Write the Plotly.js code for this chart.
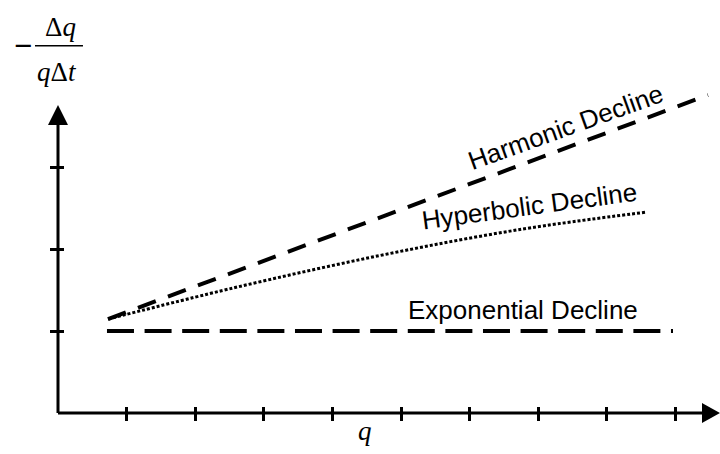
<!DOCTYPE html>
<html>
<head>
<meta charset="utf-8">
<script src="https://cdn.plot.ly/plotly-3.0.1.min.js"></script>
<style>html,body{margin:0;padding:0;background:#fff;}#chart{width:720px;height:454px;}</style>
</head>
<body>
<div id="chart"></div>
<script>
// Rate q (x) and decline -Δq/(qΔt) (y)
const qExp = [0.714, 8.965];
const dExp = [1.0, 1.0];
const qHar = [0.729, 9.475];
const dHar = [1.146, 3.878];
const qHyp = [0.729, 2.551, 4.694, 6.735, 8.586];
const dHyp = [1.146, 1.524, 1.921, 2.238, 2.451];
const xTicks = [1, 2, 3, 4, 5, 6, 7, 8, 9];
const yTicks = [1, 2, 3];
const curveNames = ['Exponential Decline', 'Hyperbolic Decline', 'Harmonic Decline'];
const labelQ = [6.778, 6.880, 7.405];
const labelD = [1.256, 2.524, 3.488];
const labelAngle = [0, -7.7, -19.8];

const xRange = [0, 652 / 68.6];
const yRange = [0, 403 / 82];

const traces = [
  {x: qExp, y: dExp, mode: 'lines', line: {color: '#000', width: 4, dash: '27px,10.6px'}, hoverinfo: 'skip', name: curveNames[0]},
  {x: qHar, y: dHar, mode: 'lines', line: {color: '#000', width: 4, dash: '19px,13px'}, hoverinfo: 'skip', name: curveNames[2]},
  {x: qHyp, y: dHyp, mode: 'lines', line: {color: '#000', width: 3, dash: '3px,2px', shape: 'spline', smoothing: 1}, hoverinfo: 'skip', name: curveNames[1]},
  {x: [], y: [], xaxis: 'x2', yaxis: 'y2', mode: 'lines', hoverinfo: 'skip', showlegend: false}
];

const axBase = {showgrid: false, zeroline: false, showline: false, showticklabels: false,
  tickmode: 'array', tickwidth: 3, tickcolor: '#000', fixedrange: true};

const sans = {family: 'Liberation Sans, Arial, sans-serif', size: 26, color: '#000'};
const serif = {family: 'Liberation Serif, Times New Roman, serif', size: 27, color: '#000'};

const annotations = [];
for (let i = 0; i < curveNames.length; i++) {
  annotations.push({x: labelQ[i], y: labelD[i], xref: 'x', yref: 'y', text: curveNames[i],
    showarrow: false, textangle: labelAngle[i], font: sans, xanchor: 'center', yanchor: 'middle'});
}
// y-axis title: −Δq / (qΔt)
annotations.push({x: -0.054, y: 0.9114, xref: 'paper', yref: 'paper', text: '\u2212', showarrow: false, font: {family: 'Liberation Sans, Arial, sans-serif', size: 31, color: '#000'}, xanchor: 'center', yanchor: 'middle'});
annotations.push({x: 0.0031, y: 0.9566, xref: 'paper', yref: 'paper', text: 'Δ<i>q</i>', showarrow: false, font: serif, xanchor: 'center', yanchor: 'middle'});
annotations.push({x: -0.0008, y: 0.8450, xref: 'paper', yref: 'paper', text: '<i>q</i>Δ<i>t</i>', showarrow: false, font: serif, xanchor: 'center', yanchor: 'middle'});
// x-axis title
annotations.push({x: 0.4709, y: -0.0459, xref: 'paper', yref: 'paper', text: '<i>q</i>', showarrow: false, font: serif, xanchor: 'center', yanchor: 'middle'});

const shapes = [
  // x axis line + arrow head
  {type: 'line', xref: 'paper', yref: 'paper', x0: 0, x1: 0.988, y0: 0, y1: 0, line: {color: '#000', width: 3}},
  {type: 'path', xref: 'paper', yref: 'paper', path: 'M 0.9877 0.0248 L 1.0153 0 L 0.9877 -0.0248 Z', fillcolor: '#000', line: {color: '#000', width: 0}},
  // y axis line + arrow head
  {type: 'line', xref: 'paper', yref: 'paper', x0: 0, x1: 0, y0: 0, y1: 0.715, line: {color: '#000', width: 3}},
  {type: 'path', xref: 'paper', yref: 'paper', path: 'M -0.0153 0.7146 L 0 0.7643 L 0.0153 0.7146 Z', fillcolor: '#000', line: {color: '#000', width: 0}},
  // fraction bar in y title
  {type: 'line', xref: 'paper', yref: 'paper', x0: -0.0353, x1: 0.0383, y0: 0.9114, y1: 0.9114, line: {color: '#000', width: 1.5}}
];

const layout = {
  width: 720, height: 454,
  margin: {l: 58, r: 10, t: 10, b: 41},
  paper_bgcolor: '#fff', plot_bgcolor: '#fff',
  showlegend: false,
  xaxis: Object.assign({}, axBase, {range: xRange, tickvals: xTicks, ticks: 'outside', ticklen: 7}),
  yaxis: Object.assign({}, axBase, {range: yRange, tickvals: yTicks, ticks: 'outside', ticklen: 7}),
  xaxis2: Object.assign({}, axBase, {range: xRange, tickvals: xTicks, ticks: 'inside', ticklen: 6, overlaying: 'x', anchor: 'y2', side: 'bottom'}),
  yaxis2: Object.assign({}, axBase, {range: yRange, tickvals: yTicks, ticks: 'inside', ticklen: 6, overlaying: 'y', anchor: 'x2', side: 'left'}),
  annotations: annotations,
  shapes: shapes
};

Plotly.newPlot('chart', traces, layout, {displayModeBar: false, staticPlot: true});
</script>
</body>
</html>
